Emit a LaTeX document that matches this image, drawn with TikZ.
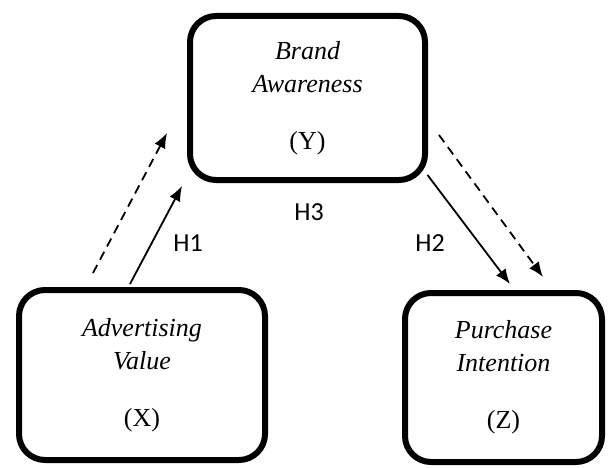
\documentclass[tikz,border=0pt]{standalone}
\usepackage{fontspec}
\setmainfont{Liberation Serif}
\newfontfamily\labfont{Carlito}
\usetikzlibrary{arrows.meta,calc}
\begin{document}
\begin{tikzpicture}[x=1pt,y=-1pt,
  varbox/.style={draw, line width=6pt, rounded corners=26pt, align=center,
    inner sep=0pt, font=\fontsize{26}{33}\selectfont},
  conn/.style={line width=1.8pt, -{Latex[length=15pt,width=12pt]}},
  dconn/.style={conn, dash pattern=on 9pt off 6pt},
  hlab/.style={font=\labfont\fontsize{26}{30}\selectfont}]
\useasboundingbox (0,0) rectangle (610,468);
\node[varbox, minimum width=235pt, minimum height=164pt] (Y) at (307.5,98)
  {\itshape Brand\\ \itshape Awareness\\[24pt] (Y)};
\node[varbox, minimum width=246pt, minimum height=170pt] (X) at (142,375)
  {\itshape Advertising\\ \itshape Value\\[24pt] (X)};
\node[varbox, minimum width=197pt, minimum height=169pt] (Z) at (503.5,377.5)
  {\itshape Purchase\\ \itshape Intention\\[24pt] (Z)};
\draw[conn] ([shift={(-12,-3)}]X.north) -- ([shift={(-5,3)}]Y.south west);
\draw[conn] ([shift={(-0.5,-8)}]Y.south east) -- ([shift={(6.5,-6)}]Z.north);
\coordinate (d1s) at (93,273);
\coordinate (d1e) at (167,133);
\coordinate (d2s) at (439,135);
\coordinate (d2e) at (543,277);
\draw[dconn] (d1s) -- (d1e);
\draw[dconn] (d2s) -- (d2e);
\node[hlab] (h1) at (188,243.5) {H1};
\node[hlab] (h3) at (309,212) {H3};
\node[hlab] (h2) at (430,243.5) {H2};
\end{tikzpicture}
\end{document}
